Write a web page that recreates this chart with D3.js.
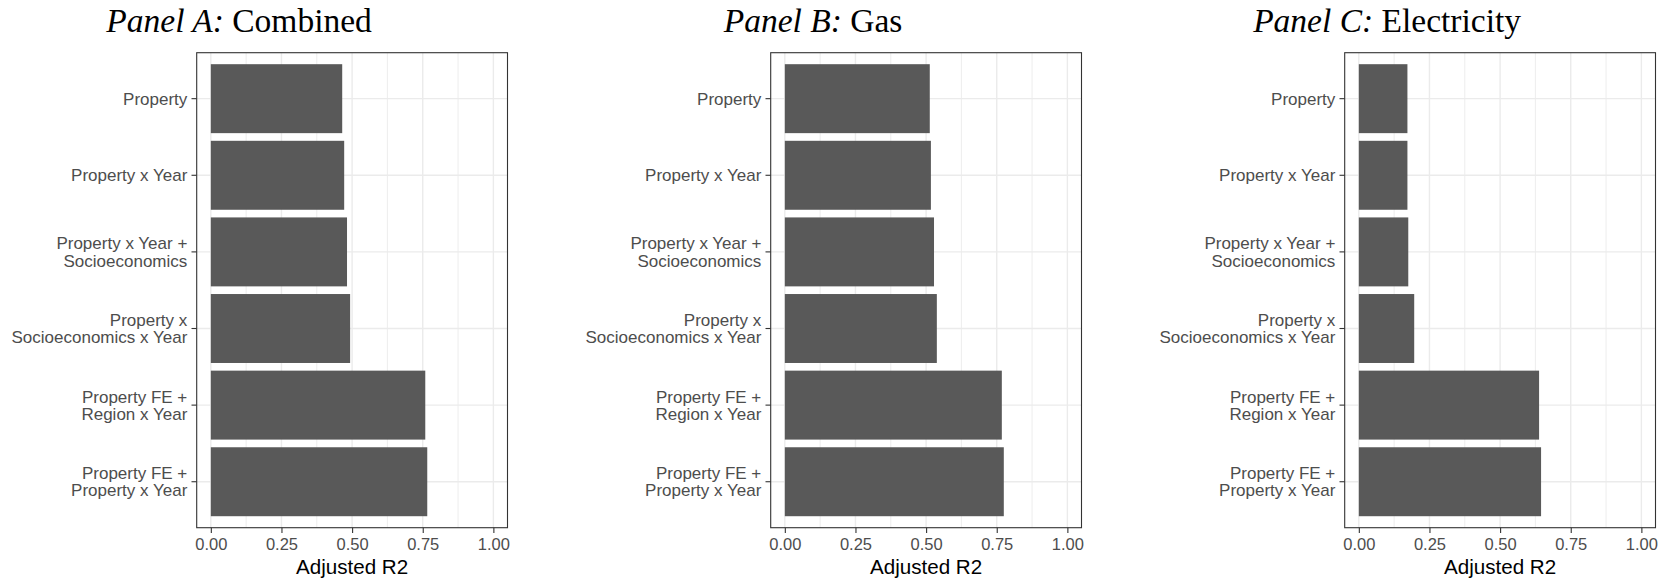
<!DOCTYPE html>
<html>
<head>
<meta charset="utf-8">
<script src="https://cdn.jsdelivr.net/npm/d3@7"></script>
<style>
  html, body { margin: 0; padding: 0; background: #ffffff; }
  svg { display: block; }
</style>
</head>
<body>
<svg id="chart" width="1677" height="582"></svg>
<script>
// ---- data ----
const categories = [
  "Property",
  "Property x Year",
  "Property x Year +\nSocioeconomics",
  "Property x\nSocioeconomics x Year",
  "Property FE +\nRegion x Year",
  "Property FE +\nProperty x Year"
];
const panelLetters = ["Panel A:", "Panel B:", "Panel C:"];
const panelNames = ["Combined", "Gas", "Electricity"];
const combinedValues = [0.465, 0.472, 0.482, 0.493, 0.759, 0.766];
const gasValues = [0.513, 0.517, 0.528, 0.538, 0.768, 0.775];
const electricityValues = [0.172, 0.172, 0.175, 0.196, 0.638, 0.645];
const xTicks = [0, 0.25, 0.5, 0.75, 1];
const xMinorTicks = [0.125, 0.375, 0.625, 0.875];
const xTickLabels = ["0.00", "0.25", "0.50", "0.75", "1.00"];
const xAxisTitle = "Adjusted R2";

const seriesList = [combinedValues, gasValues, electricityValues];

// ---- layout ----
const svg = d3.select("#chart");
svg.append("rect").attr("width", 1677).attr("height", 582).attr("fill", "#ffffff");

const panelLeft0 = 196.7, panelPitch = 574, panelW = 310.8;
const panelTop = 52.7, panelBottom = 527.7;
const sansFont = "'Liberation Sans', Arial, sans-serif";
const serifFont = "'Liberation Serif', 'Times New Roman', serif";

seriesList.forEach((values, i) => {
  const left = panelLeft0 + panelPitch * i;
  const right = left + panelW;
  const g = svg.append("g");

  const x = d3.scaleLinear().domain([-0.05, 1.05]).range([left, right]);
  const y = d3.scaleBand().domain(categories).range([panelTop, panelBottom])
    .paddingInner(0.1).paddingOuter(0.15);
  const yc = c => y(c) + y.bandwidth() / 2;

  // minor grid
  g.selectAll(".minor").data(xMinorTicks).enter().append("line")
    .attr("x1", d => x(d)).attr("x2", d => x(d))
    .attr("y1", panelTop).attr("y2", panelBottom)
    .attr("stroke", "#ebebeb").attr("stroke-width", 0.9);
  // major grid
  g.selectAll(".majorx").data(xTicks).enter().append("line")
    .attr("x1", d => x(d)).attr("x2", d => x(d))
    .attr("y1", panelTop).attr("y2", panelBottom)
    .attr("stroke", "#ebebeb").attr("stroke-width", 1.4);
  g.selectAll(".majory").data(categories).enter().append("line")
    .attr("x1", left).attr("x2", right)
    .attr("y1", d => yc(d)).attr("y2", d => yc(d))
    .attr("stroke", "#ebebeb").attr("stroke-width", 1.4);

  // bars
  g.selectAll(".bar").data(categories.map((c, k) => ({ c, v: values[k] }))).enter().append("rect")
    .attr("x", x(0))
    .attr("y", d => y(d.c))
    .attr("width", d => x(d.v) - x(0))
    .attr("height", y.bandwidth())
    .attr("fill", "#595959");

  // panel border
  g.append("rect")
    .attr("x", left).attr("y", panelTop)
    .attr("width", panelW).attr("height", panelBottom - panelTop)
    .attr("fill", "none").attr("stroke", "#333333").attr("stroke-width", 1.1);

  // x axis
  const xAxis = d3.axisBottom(x).tickValues(xTicks)
    .tickFormat((d, k) => xTickLabels[k]).tickSize(5.2).tickPadding(4);
  const xg = g.append("g").attr("transform", `translate(0,${panelBottom})`).call(xAxis);
  xg.select(".domain").remove();
  xg.selectAll(".tick line").attr("stroke", "#333333").attr("stroke-width", 1.1);
  xg.selectAll(".tick text").attr("fill", "#4d4d4d")
    .style("font-family", sansFont).style("font-size", "16.5px")
    .attr("dy", null).attr("y", 22.3);

  // y axis
  const yAxis = d3.axisLeft(y).tickSize(5.2).tickPadding(4.2).tickFormat("");
  const yg = g.append("g").attr("transform", `translate(${left},0)`).call(yAxis);
  yg.select(".domain").remove();
  yg.selectAll(".tick line").attr("stroke", "#333333").attr("stroke-width", 1.1);
  yg.selectAll(".tick").each(function (d) {
    const lines = d.split("\n");
    const t = d3.select(this).select("text")
      .attr("fill", "#4d4d4d").attr("text-anchor", "end")
      .style("font-family", sansFont).style("font-size", "17px")
      .attr("x", -9.4).attr("dy", null).attr("y", null);
    const lh = 17.3;
    lines.forEach((ln, k) => {
      t.append("tspan").attr("x", -9.4)
        .attr("y", (k - (lines.length - 1) / 2) * lh + 6.1)
        .text(ln);
    });
  });

  // x axis title
  g.append("text")
    .attr("x", (left + right) / 2).attr("y", 574)
    .attr("text-anchor", "middle").attr("fill", "#000000")
    .style("font-family", sansFont).style("font-size", "20.6px")
    .text(xAxisTitle);

  // panel title
  const title = svg.append("text")
    .attr("x", (left + right) / 2 - 113).attr("y", 32)
    .attr("text-anchor", "middle").attr("fill", "#000000")
    .style("font-family", serifFont).style("font-size", "33.5px");
  title.append("tspan").style("font-style", "italic").text(panelLetters[i] + " ");
  title.append("tspan").text(panelNames[i]);
});
</script>
</body>
</html>
